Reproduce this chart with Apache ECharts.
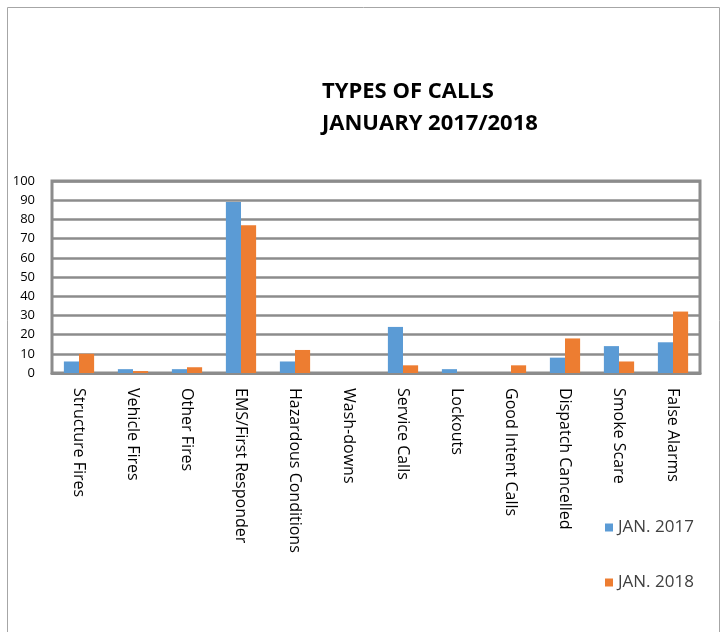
<!DOCTYPE html>
<html><head><meta charset="utf-8">
<script src="https://cdn.jsdelivr.net/npm/echarts@6/dist/echarts.min.js"></script>
<style>html,body{margin:0;padding:0;background:#fff}#c{width:727px;height:632px}</style>
</head><body><div id="c"></div>
<script>
const categories = ["Structure Fires","Vehicle Fires","Other Fires","EMS/First Responder","Hazardous Conditions","Wash-downs","Service Calls","Lockouts","Good Intent Calls","Dispatch Cancelled","Smoke Scare","False Alarms"];
const jan2017 = [6, 2, 2, 89, 6, 0, 24, 2, 0, 8, 14, 16];
const jan2018 = [10, 1, 3, 77, 12, 0, 4, 0, 4, 18, 6, 32];
const seriesNames = ["JAN. 2017", "JAN. 2018"];
const yTicks = {min: 0, max: 100, interval: 10};

const chart = echarts.init(document.getElementById('c'), null, {renderer: 'canvas'});
chart.setOption({
  animation: false,
  backgroundColor: '#fff',
  graphic: [{
    type: 'rect', shape: {x: 7.5, y: 7.5, width: 712, height: 640},
    style: {fill: 'none', stroke: '#a6a6a6', lineWidth: 1}, silent: true
  }],
  title: {
    text: 'TYPES OF CALLS\nJANUARY 2017/2018',
    left: 317, top: 71,
    textStyle: {fontFamily: 'Open Sans', fontWeight: 'bold', fontSize: 22, color: '#000', lineHeight: 32}
  },
  legend: {
    orient: 'vertical', left: 600, top: 514, itemGap: 38,
    itemWidth: 8, itemHeight: 8, icon: 'rect', itemTextGap: 5,
    textStyle: {fontFamily: 'Open Sans', fontSize: 17, color: '#404040'},
    data: seriesNames
  },
  grid: {left: 52, right: 27, top: 181, bottom: 259, show: true, borderColor: '#8c8c8c', borderWidth: 3, containLabel: false},
  xAxis: {
    type: 'category', data: categories,
    axisLine: {lineStyle: {color: '#8c8c8c', width: 3}},
    axisTick: {show: false},
    axisLabel: {rotate: -90, interval: 0, margin: 15, fontFamily: 'Open Sans', fontSize: 16, color: '#000'}
  },
  yAxis: {
    type: 'value', min: yTicks.min, max: yTicks.max, interval: yTicks.interval,
    axisLine: {show: false}, axisTick: {show: false},
    axisLabel: {fontFamily: 'Open Sans', fontSize: 13, color: '#000', margin: 17},
    splitLine: {lineStyle: {color: '#8c8c8c', width: 2.5}}
  },
  series: [
    {name: seriesNames[0], type: 'bar', data: jan2017, barGap: '0%', barCategoryGap: '44%',
     itemStyle: {color: '#5B9BD5'}},
    {name: seriesNames[1], type: 'bar', data: jan2018,
     itemStyle: {color: '#ED7D31'}}
  ]
});
</script></body></html>
